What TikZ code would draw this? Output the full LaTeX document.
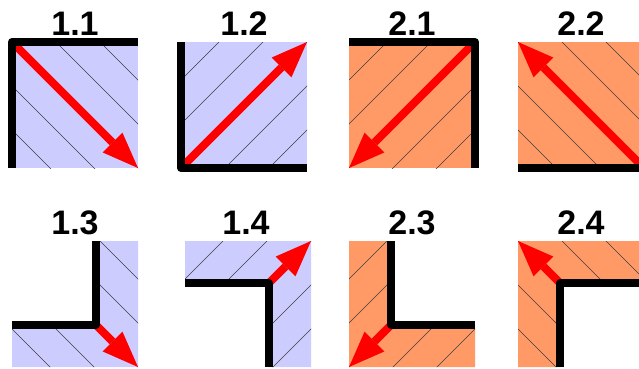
\documentclass[tikz,border=0pt]{standalone}
\usepackage{fontspec}
\setmainfont{Liberation Sans}
\usetikzlibrary{arrows.meta}
\definecolor{pblue}{RGB}{204,204,255}
\definecolor{porange}{RGB}{255,153,102}
\newcommand\hatchdown[2]{\foreach \d in {-88,-44,0,44,88} \draw[hatchline] ({#1+\d-200},{#2-200}) -- ({#1+\d+200},{#2+200});}
\newcommand\hatchup[2]{\foreach \d in {-88,-44,0,44,88} \draw[hatchline] ({#1+\d-200},{#2+200}) -- ({#1+\d+200},{#2-200});}
\tikzset{
  hatchline/.style={draw=black!75, line width=0.6pt},
  wall/.style={draw=black, line width=8pt, line join=round, line cap=butt},
  flow/.style={draw=red, line width=8pt, line cap=butt, -{Triangle[length=36pt,width=28pt,line width=0pt]}},
  lbl/.style={font=\bfseries\fontsize{34}{34}\selectfont, anchor=base, inner sep=0pt}
}
\begin{document}
\begin{tikzpicture}[x=1pt,y=-1pt]
\clip (0,0) rectangle (639,368);
\fill[white] (0,0) rectangle (639,368);
% labels
\node[lbl] (l11) at (75,35) {1.1};
\node[lbl] (l12) at (244,35) {1.2};
\node[lbl] (l21) at (412,35) {2.1};
\node[lbl] (l22) at (581,35) {2.2};
\node[lbl] (l13) at (75,234) {1.3};
\node[lbl] (l14) at (246,234) {1.4};
\node[lbl] (l23) at (412,234) {2.3};
\node[lbl] (l24) at (581,234) {2.4};
% ---- 1.1
\fill[pblue] (12,42) rectangle (138,168);
\begin{scope}\clip (12,42) rectangle (138,168); \hatchdown{12}{42} \end{scope}
\coordinate (s11) at (12,42); \coordinate (t11) at (138,168);
\draw[flow] (s11) -- (t11);
\draw[wall] (138,42) -- (12,42) -- (12,168);
% ---- 1.2
\fill[pblue] (181,42) rectangle (307,168);
\begin{scope}\clip (181,42) rectangle (307,168); \hatchup{181}{168} \end{scope}
\coordinate (s12) at (181,168); \coordinate (t12) at (307,42);
\draw[flow] (s12) -- (t12);
\draw[wall] (181,42) -- (181,168) -- (307,168);
% ---- 2.1
\fill[porange] (349,42) rectangle (475,168);
\begin{scope}\clip (349,42) rectangle (475,168); \hatchup{349}{168} \end{scope}
\coordinate (s21) at (475,42); \coordinate (t21) at (349,168);
\draw[flow] (s21) -- (t21);
\draw[wall] (349,42) -- (475,42) -- (475,168);
% ---- 2.2
\fill[porange] (518,42) rectangle (644,168);
\begin{scope}\clip (518,42) rectangle (644,168); \hatchdown{518}{42} \end{scope}
\coordinate (s22) at (644,168); \coordinate (t22) at (518,42);
\draw[flow] (s22) -- (t22);
\draw[wall] (644,42) -- (644,168) -- (518,168);
% ---- 1.3
\fill[pblue] (96,241) -- (138,241) -- (138,367) -- (12,367) -- (12,325) -- (96,325) -- cycle;
\begin{scope}\clip (96,241) -- (138,241) -- (138,367) -- (12,367) -- (12,325) -- (96,325) -- cycle; \hatchdown{12}{241} \end{scope}
\coordinate (s13) at (96,325); \coordinate (t13) at (138,367);
\draw[flow] (s13) -- (t13);
\draw[wall] (96,241) -- (96,325) -- (12,325);
% ---- 1.4
\fill[pblue] (185,241) -- (311,241) -- (311,367) -- (269,367) -- (269,283) -- (185,283) -- cycle;
\begin{scope}\clip (185,241) -- (311,241) -- (311,367) -- (269,367) -- (269,283) -- (185,283) -- cycle; \hatchup{185}{367} \end{scope}
\coordinate (s14) at (269,283); \coordinate (t14) at (311,241);
\draw[flow] (s14) -- (t14);
\draw[wall] (185,283) -- (269,283) -- (269,367);
% ---- 2.3
\fill[porange] (349,241) -- (391,241) -- (391,325) -- (475,325) -- (475,367) -- (349,367) -- cycle;
\begin{scope}\clip (349,241) -- (391,241) -- (391,325) -- (475,325) -- (475,367) -- (349,367) -- cycle; \hatchup{349}{367} \end{scope}
\coordinate (s23) at (391,325); \coordinate (t23) at (349,367);
\draw[flow] (s23) -- (t23);
\draw[wall] (391,241) -- (391,325) -- (475,325);
% ---- 2.4
\fill[porange] (518,241) -- (644,241) -- (644,283) -- (560,283) -- (560,367) -- (518,367) -- cycle;
\begin{scope}\clip (518,241) -- (644,241) -- (644,283) -- (560,283) -- (560,367) -- (518,367) -- cycle; \hatchdown{518}{241} \end{scope}
\coordinate (s24) at (560,283); \coordinate (t24) at (518,241);
\draw[flow] (s24) -- (t24);
\draw[wall] (644,283) -- (560,283) -- (560,367);
\end{tikzpicture}
\end{document}
